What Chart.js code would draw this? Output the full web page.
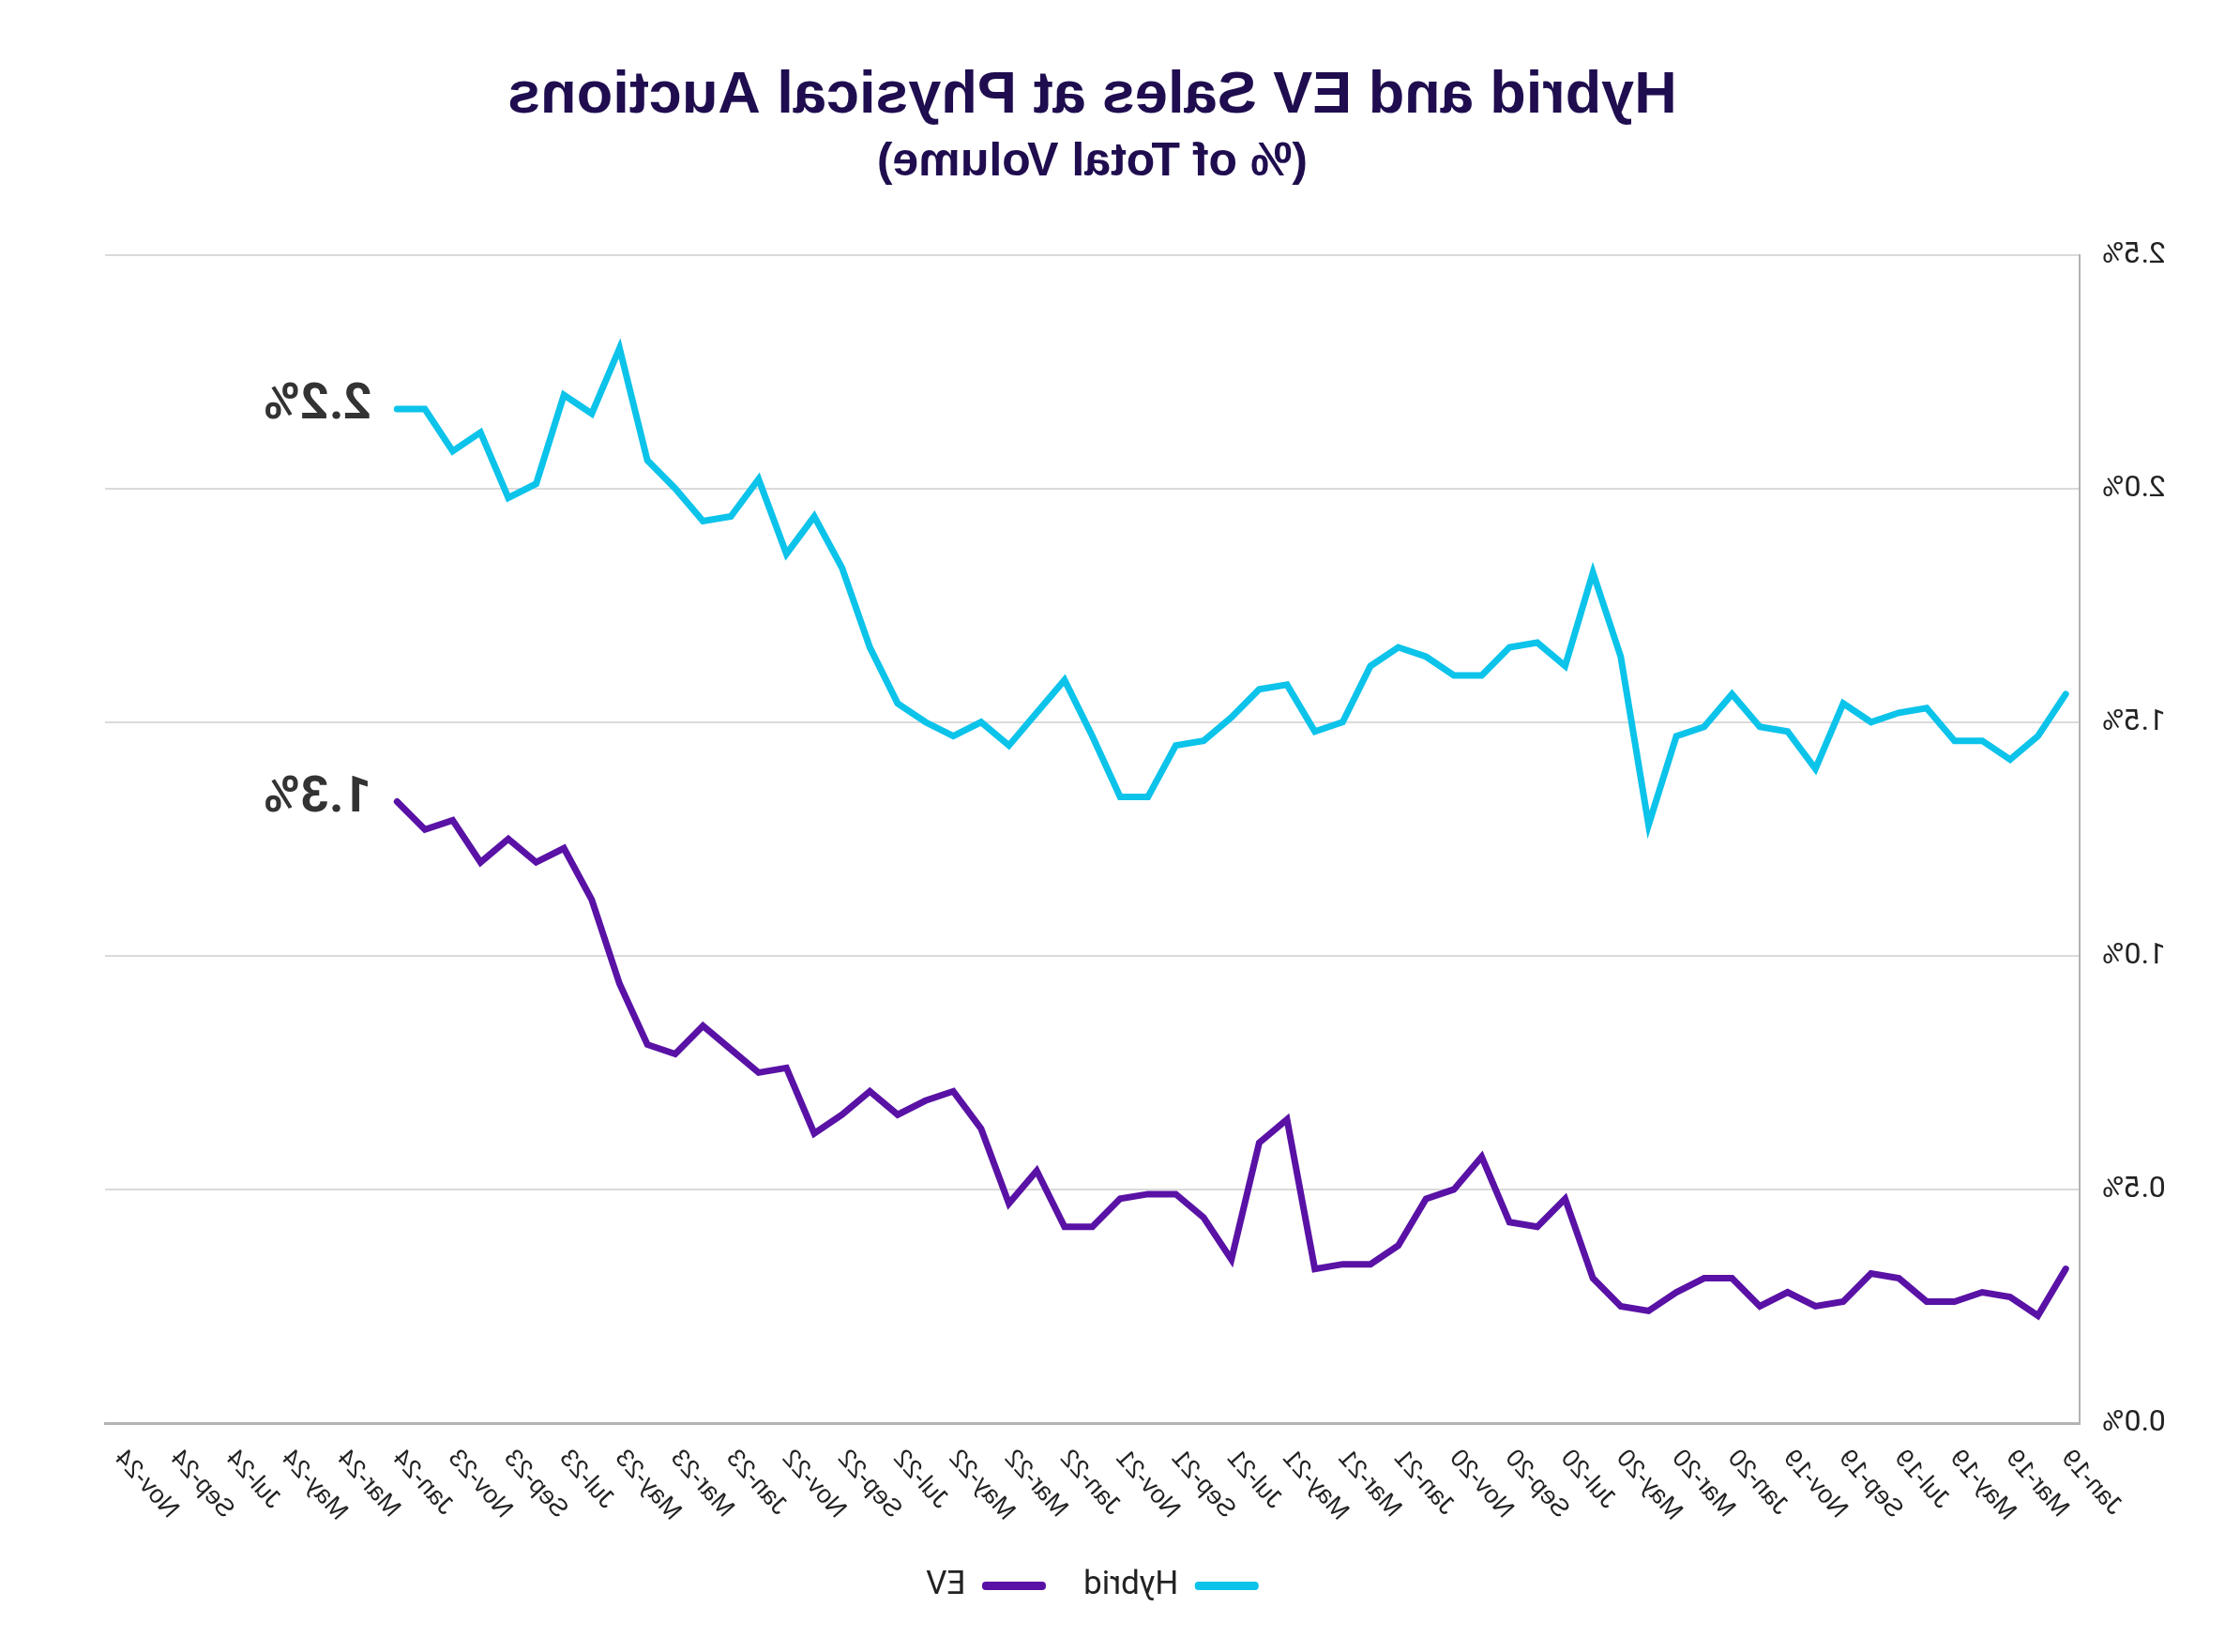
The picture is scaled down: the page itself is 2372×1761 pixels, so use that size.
<!DOCTYPE html>
<html>
<head>
<meta charset="utf-8">
<title>Hybrid and EV Sales at Physical Auctions</title>
<script src="https://cdn.jsdelivr.net/npm/chart.js@4.4.1/dist/chart.umd.min.js"></script>
<style>
  html, body { margin: 0; padding: 0; background: #ffffff; }
  /* the reference picture is a mirror image, so the whole canvas is flipped */
  #salesChart { display: block; transform: scaleX(-1); }
</style>
</head>
<body>
<canvas id="salesChart" width="2372" height="1761"></canvas>
<script>
// Month categories on the x axis (every other one gets a label)
const months = [
  "Jan-19", "Feb-19", "Mar-19", "Apr-19", "May-19", "Jun-19", "Jul-19", "Aug-19", "Sep-19", "Oct-19", "Nov-19", "Dec-19",
  "Jan-20", "Feb-20", "Mar-20", "Apr-20", "May-20", "Jun-20", "Jul-20", "Aug-20", "Sep-20", "Oct-20", "Nov-20", "Dec-20",
  "Jan-21", "Feb-21", "Mar-21", "Apr-21", "May-21", "Jun-21", "Jul-21", "Aug-21", "Sep-21", "Oct-21", "Nov-21", "Dec-21",
  "Jan-22", "Feb-22", "Mar-22", "Apr-22", "May-22", "Jun-22", "Jul-22", "Aug-22", "Sep-22", "Oct-22", "Nov-22", "Dec-22",
  "Jan-23", "Feb-23", "Mar-23", "Apr-23", "May-23", "Jun-23", "Jul-23", "Aug-23", "Sep-23", "Oct-23", "Nov-23", "Dec-23",
  "Jan-24", "Feb-24", "Mar-24", "Apr-24", "May-24", "Jun-24", "Jul-24", "Aug-24", "Sep-24", "Oct-24", "Nov-24",
];

// Hybrid share of physical auction volume (%), Jan-19 .. Jan-24
const hybridShare = [
  1.56, 1.47, 1.42, 1.46, 1.46, 1.53, 1.52, 1.50, 1.54, 1.40, 1.48, 1.49,
  1.56, 1.49, 1.47, 1.28, 1.64, 1.82, 1.62, 1.67, 1.66, 1.60, 1.60, 1.64,
  1.66, 1.62, 1.50, 1.48, 1.58, 1.57, 1.51, 1.46, 1.45, 1.34, 1.34, 1.47,
  1.59, 1.52, 1.45, 1.50, 1.47, 1.50, 1.54, 1.66, 1.83, 1.94, 1.86, 2.02,
  1.94, 1.93, 2.00, 2.06, 2.30, 2.16, 2.20, 2.01, 1.98, 2.12, 2.08, 2.17,
  2.17,
];

// EV share of physical auction volume (%), Jan-19 .. Jan-24
const evShare = [
  0.33, 0.23, 0.27, 0.28, 0.26, 0.26, 0.31, 0.32, 0.26, 0.25, 0.28, 0.25,
  0.31, 0.31, 0.28, 0.24, 0.25, 0.31, 0.48, 0.42, 0.43, 0.57, 0.50, 0.48,
  0.38, 0.34, 0.34, 0.33, 0.65, 0.60, 0.35, 0.44, 0.49, 0.49, 0.48, 0.42,
  0.42, 0.54, 0.47, 0.63, 0.71, 0.69, 0.66, 0.71, 0.66, 0.62, 0.76, 0.75,
  0.80, 0.85, 0.79, 0.81, 0.94, 1.12, 1.23, 1.20, 1.25, 1.20, 1.29, 1.27,
  1.33,
];

// writes the latest value next to the end of each line
const endLabels = {
  id: "endLabels",
  afterDatasetsDraw(chart) {
    const ctx = chart.ctx;
    ctx.save();
    ctx.font = "bold 53px Roboto, 'Liberation Sans', sans-serif";
    ctx.fillStyle = "#333333";
    ctx.textAlign = "left";
    ctx.textBaseline = "middle";
    chart.data.datasets.forEach((ds, i) => {
      const meta = chart.getDatasetMeta(i);
      const last = meta.data[ds.data.length - 1];
      const value = ds.data[ds.data.length - 1];
      ctx.fillText(value.toFixed(1) + "%", last.x + 27, last.y - 3);
    });
    ctx.restore();
  },
};

const ctx = document.getElementById("salesChart").getContext("2d");

new Chart(ctx, {
  type: "line",
  data: {
    labels: months,
    datasets: [
      {
        label: "Hybrid",
        data: hybridShare,
        borderColor: "#0cc3ea",
        backgroundColor: "#0cc3ea",
        borderWidth: 7,
        borderCapStyle: "round",
        pointRadius: 0,
        tension: 0,
      },
      {
        label: "EV",
        data: evShare,
        borderColor: "#5912a5",
        backgroundColor: "#5912a5",
        borderWidth: 7,
        borderCapStyle: "round",
        pointRadius: 0,
        tension: 0,
      },
    ],
  },
  options: {
    responsive: false,
    devicePixelRatio: 1,
    animation: false,
    layout: {
      padding: { left: 55, right: 112, top: 0, bottom: 43 },
    },
    scales: {
      x: {
        offset: true,
        grid: { display: false },
        border: { display: true, color: "#b3b3b3", width: 3 },
        ticks: {
          autoSkip: false,
          maxRotation: 48,
          minRotation: 48,
          padding: 14,
          color: "#222222",
          font: { family: "'Liberation Sans', Arial, sans-serif", size: 27 },
          callback: function (value, index) {
            return index % 2 === 0 ? this.getLabelForValue(value) : null;
          },
        },
        afterFit: (scale) => {
          scale.height = 116;
        },
      },
      y: {
        min: 0,
        max: 2.5,
        grid: { color: "#dadada", lineWidth: 2, drawTicks: false },
        border: { display: true, color: "#b3b3b3", width: 2 },
        ticks: {
          stepSize: 0.5,
          padding: 24,
          color: "#222222",
          font: { family: "Roboto, 'Liberation Sans', sans-serif", size: 32 },
          callback: (v) => v.toFixed(1) + "%",
        },
        afterFit: (scale) => {
          scale.width = 100;
        },
      },
    },
    plugins: {
      title: {
        display: true,
        fullSize: false,
        text: "Hybrid and EV Sales at Physical Auctions",
        color: "#1f0d4f",
        font: { family: "'Liberation Sans', Arial, sans-serif", size: 63, weight: "bold" },
        padding: { top: 65, bottom: 0 },
      },
      subtitle: {
        display: true,
        fullSize: false,
        text: "(% of Total Volume)",
        color: "#1f0d4f",
        font: { family: "'Liberation Sans', Arial, sans-serif", size: 50, weight: "bold" },
        padding: { top: 3, bottom: 68 },
      },
      legend: {
        position: "bottom",
        fullSize: false,
        labels: {
          boxWidth: 68,
          boxHeight: 9,
          useBorderRadius: true,
          borderRadius: 4,
          padding: 40,
          color: "#222222",
          font: { family: "Roboto, 'Liberation Sans', sans-serif", size: 35 },
          generateLabels: (chart) => {
            const items = Chart.defaults.plugins.legend.labels.generateLabels(chart);
            items.forEach((item) => {
              item.fillStyle = item.strokeStyle;
              item.strokeStyle = "rgba(0,0,0,0)";
              item.lineWidth = 0;
            });
            return items;
          },
        },
      },
      tooltip: { enabled: false },
    },
  },
  plugins: [endLabels],
});
</script>
</body>
</html>
